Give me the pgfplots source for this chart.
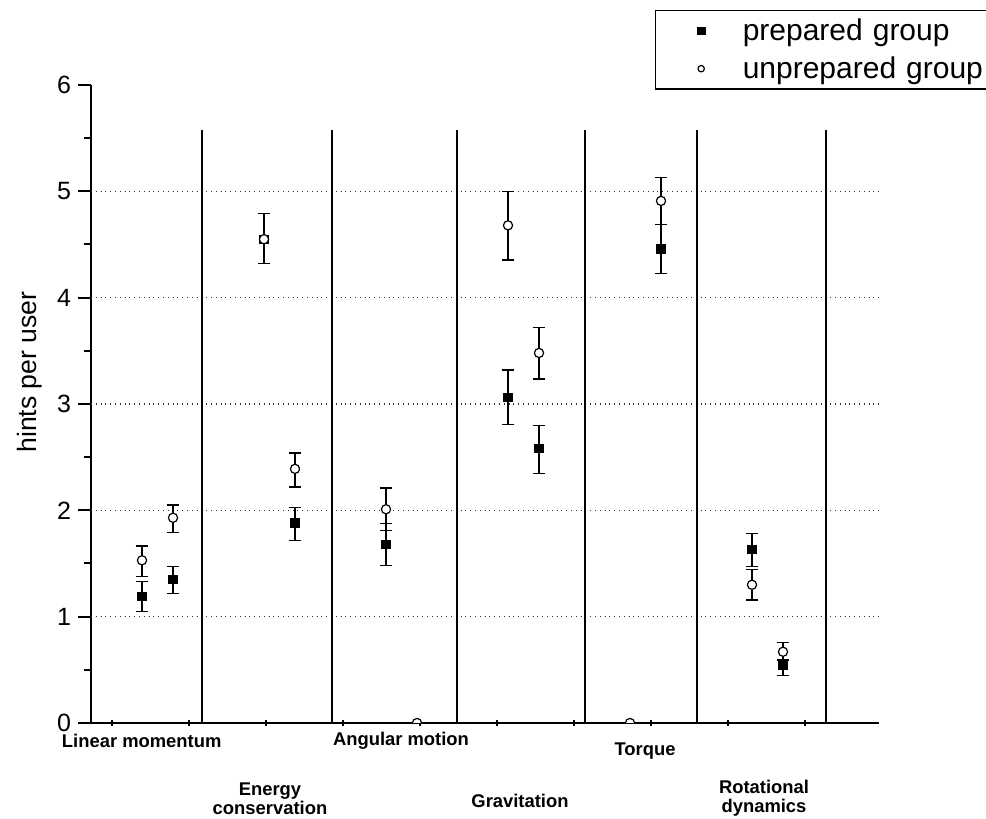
\documentclass[border=0pt]{standalone}
\usepackage{pgfplots}
\pgfplotsset{compat=1.18}
\usepackage{pgfplotstable}
\usepackage{fontspec}
\setmainfont{Liberation Sans}

\pgfplotsset{
  legsq/.style={legend image code/.code={\draw[##1, mark size=1.9pt] plot coordinates {(10pt,0pt)}; \path (0pt,0pt) (20pt,0pt);}},
  legci/.style={legend image code/.code={\draw[##1, mark size=1.6pt] plot coordinates {(10pt,0pt)}; \path (0pt,0pt) (20pt,0pt);}},
}

\pgfplotstableread{
x y ep em
51 1.19 0.14 0.14
82 1.35 0.12 0.13
173 4.55 0.24 0.23
204 1.88 0.145 0.16
295 1.68 0.195 0.20
417 3.06 0.26 0.25
448 2.58 0.22 0.23
570 4.46 0.225 0.23
661 1.63 0.155 0.16
692 0.54 0.045 0.09
}\prepared

\pgfplotstableread{
x y ep em
51 1.53 0.135 0.15
82 1.93 0.12 0.14
173 4.55 0.24 0.23
204 2.39 0.15 0.17
295 2.01 0.20 0.20
417 4.68 0.32 0.325
448 3.48 0.236 0.244
570 4.91 0.22 0.225
661 1.30 0.14 0.143
692 0.67 0.085 0.077
}\unprepared

\begin{document}
\begin{tikzpicture}
\begin{axis}[
  scale only axis,
  width=394pt, height=319pt,
  xmin=0, xmax=788, ymin=0, ymax=6,
  axis x line=bottom, axis y line=left,
  axis line style={-, line width=1pt},
  ytick={0,1,2,3,4,5,6},
  minor y tick num=1,
  tick align=outside,
  major tick length=6.5pt, minor tick length=3.5pt,
  tick style={line width=1pt, black},
  xtick=\empty,
  extra x ticks={21,98,175,252,329,406,483,560,637,714},
  extra x tick labels={},
  extra x tick style={tick align=center, major tick length=3pt},
  extra y ticks={1,2,3,4,5},
  extra y tick labels={},
  extra y tick style={ymajorgrids=true, major tick length=0pt},
  grid style={dotted, black!80, line width=0.7pt},
  /pgf/number format/assume math mode=true,
  yticklabel style={font=\fontsize{12.5}{14}\selectfont},
  clip mode=individual,
  clip marker paths=true,
  legend style={at={(rel axis cs:0.7157,1.1176)}, anchor=north west,
    draw=black, line width=0.6pt, font=\fontsize{15}{15}\selectfont,
    inner xsep=12.5pt, inner ysep=3pt, row sep=4.5pt, column sep=5.5pt,
    nodes={inner xsep=5pt, inner ysep=1pt, text width=145pt},
    legend cell align=left},
  error bars/error bar style={line width=0.6pt, black},
  error bars/error mark options={rotate=90, mark size=3.2pt, line width=0.6pt, black},
]
% separators
\addplot[black, line width=1pt, forget plot] coordinates {(111,0) (111,5.58)};
\addplot[black, line width=1pt, forget plot] coordinates {(241,0) (241,5.58)};
\addplot[black, line width=1pt, forget plot] coordinates {(366,0) (366,5.58)};
\addplot[black, line width=1pt, forget plot] coordinates {(494,0) (494,5.58)};
\addplot[black, line width=1pt, forget plot] coordinates {(606,0) (606,5.58)};
\addplot[black, line width=1pt, forget plot] coordinates {(735,0) (735,5.58)};

\addplot[only marks, mark=square*, mark size=2.1pt, black, legsq,
  error bars/.cd, y dir=both, y explicit]
  table[x=x, y=y, y error plus=ep, y error minus=em] {\prepared};
\addlegendentry{prepared group}

\addplot[only marks, mark=*, mark size=2.3pt, mark options={fill=white, draw=black, line width=0.6pt}, legci,
  error bars/.cd, y dir=both, y explicit]
  table[x=x, y=y, y error plus=ep, y error minus=em] {\unprepared};
\addlegendentry{unprepared group}

\addplot[only marks, mark=*, mark size=2.3pt, mark options={fill=white, draw=black, line width=0.6pt}, forget plot]
  coordinates {(326,0) (539,0)};

% category labels
\begin{scope}[font=\bfseries\fontsize{9.2}{11}\selectfont]
\node[anchor=base] at (axis cs:50.7,0) [yshift=-12.5pt] {Linear momentum};
\node[anchor=base] at (axis cs:179,0) [yshift=-36.5pt] {Energy};
\node[anchor=base] at (axis cs:179,0) [yshift=-46pt] {conservation};
\node[anchor=base] at (axis cs:310,0) [yshift=-11.5pt] {Angular motion};
\node[anchor=base] at (axis cs:429,0) [yshift=-42.5pt] {Gravitation};
\node[anchor=base] at (axis cs:554,0) [yshift=-16.5pt] {Torque};
\node[anchor=base] at (axis cs:673,0) [yshift=-35.5pt] {Rotational};
\node[anchor=base] at (axis cs:673,0) [yshift=-45pt] {dynamics};
\end{scope}
\end{axis}
\node[rotate=90, font=\fontsize{13.3}{15}\selectfont] at (-30.5pt,175.5pt) {hints per user};
\pgfresetboundingbox
\useasboundingbox (-45.5pt,-48pt) rectangle (447.5pt,361.5pt);
\end{tikzpicture}
\end{document}
